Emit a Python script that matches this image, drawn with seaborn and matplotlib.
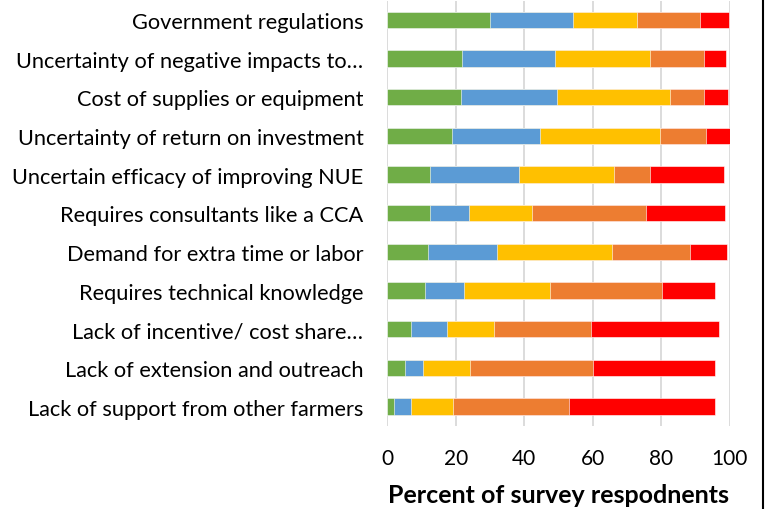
import numpy as np
import pandas as pd
import seaborn as sns
import matplotlib
from matplotlib import pyplot as plt
from matplotlib.lines import Line2D

# categories, top to bottom
barriers = [
    "Government regulations",
    "Uncertainty of negative impacts to\u2026",
    "Cost of supplies or equipment",
    "Uncertainty of return on investment",
    "Uncertain efficacy of improving NUE",
    "Requires consultants like a CCA",
    "Demand for extra time or labor",
    "Requires technical knowledge",
    "Lack of incentive/ cost share\u2026",
    "Lack of extension and outreach",
    "Lack of support from other farmers",
]

# percent of respondents per response level (green -> red)
level1 = [30.0, 21.9, 21.6, 19.0, 12.5, 12.5, 12.0, 11.0, 6.9, 5.3, 1.9]
level2 = [24.3, 27.0, 28.1, 25.7, 26.0, 11.5, 20.0, 11.5, 10.5, 5.1, 5.0]
level3 = [18.6, 27.7, 32.8, 34.8, 27.6, 18.4, 33.7, 24.9, 13.7, 13.9, 12.3]
level4 = [18.3, 15.8, 10.1, 13.6, 10.5, 33.2, 22.7, 32.7, 28.3, 35.7, 33.8]
level5 = [8.6, 6.6, 6.8, 6.9, 21.7, 23.0, 10.7, 15.7, 37.3, 35.8, 42.7]

colors = ["#70AD47", "#5B9BD5", "#FFC000", "#ED7D31", "#FF0000"]

df = pd.DataFrame({"barrier": barriers, "l1": level1, "l2": level2,
                   "l3": level3, "l4": level4, "l5": level5})
levels = ["l1", "l2", "l3", "l4", "l5"]
cum = df[levels].cumsum(axis=1)

sns.set_style("white")
plt.rcParams['font.family'] = ['Lato', 'DejaVu Sans']

fig = plt.figure(figsize=(7.65, 5.1), dpi=100)
ax = fig.add_axes([0.506, 0.163, 0.448, 0.834])

# draw cumulative totals from the largest down so each segment shows
for i in range(4, -1, -1):
    sns.barplot(x=cum[levels[i]], y=df["barrier"], color=colors[i],
                orient="h", width=0.42, saturation=1, ax=ax,
                edgecolor="white", linewidth=0.4)

ax.set_xlim(0, 100)
ax.set_xticks(range(0, 101, 20))
ax.xaxis.grid(True, color="#D9D9D9", linewidth=1.3)
ax.set_axisbelow(True)
for s in ax.spines.values():
    s.set_visible(False)

ax.set_ylabel("")
ax.set_xlabel("Percent of survey respodnents", fontsize=18, fontweight="bold",
              labelpad=11, color="black")
ax.tick_params(axis="y", length=0, pad=17, labelsize=15.7, labelcolor="black")
ax.tick_params(axis="x", length=0, pad=16, labelsize=15, labelcolor="black")

# cropped frame edge on the right of the original image
fig.add_artist(Line2D([0.9975, 0.9975], [0, 1], color="black", linewidth=1.5,
                      transform=fig.transFigure))

plt.savefig("out.png", dpi=100)
